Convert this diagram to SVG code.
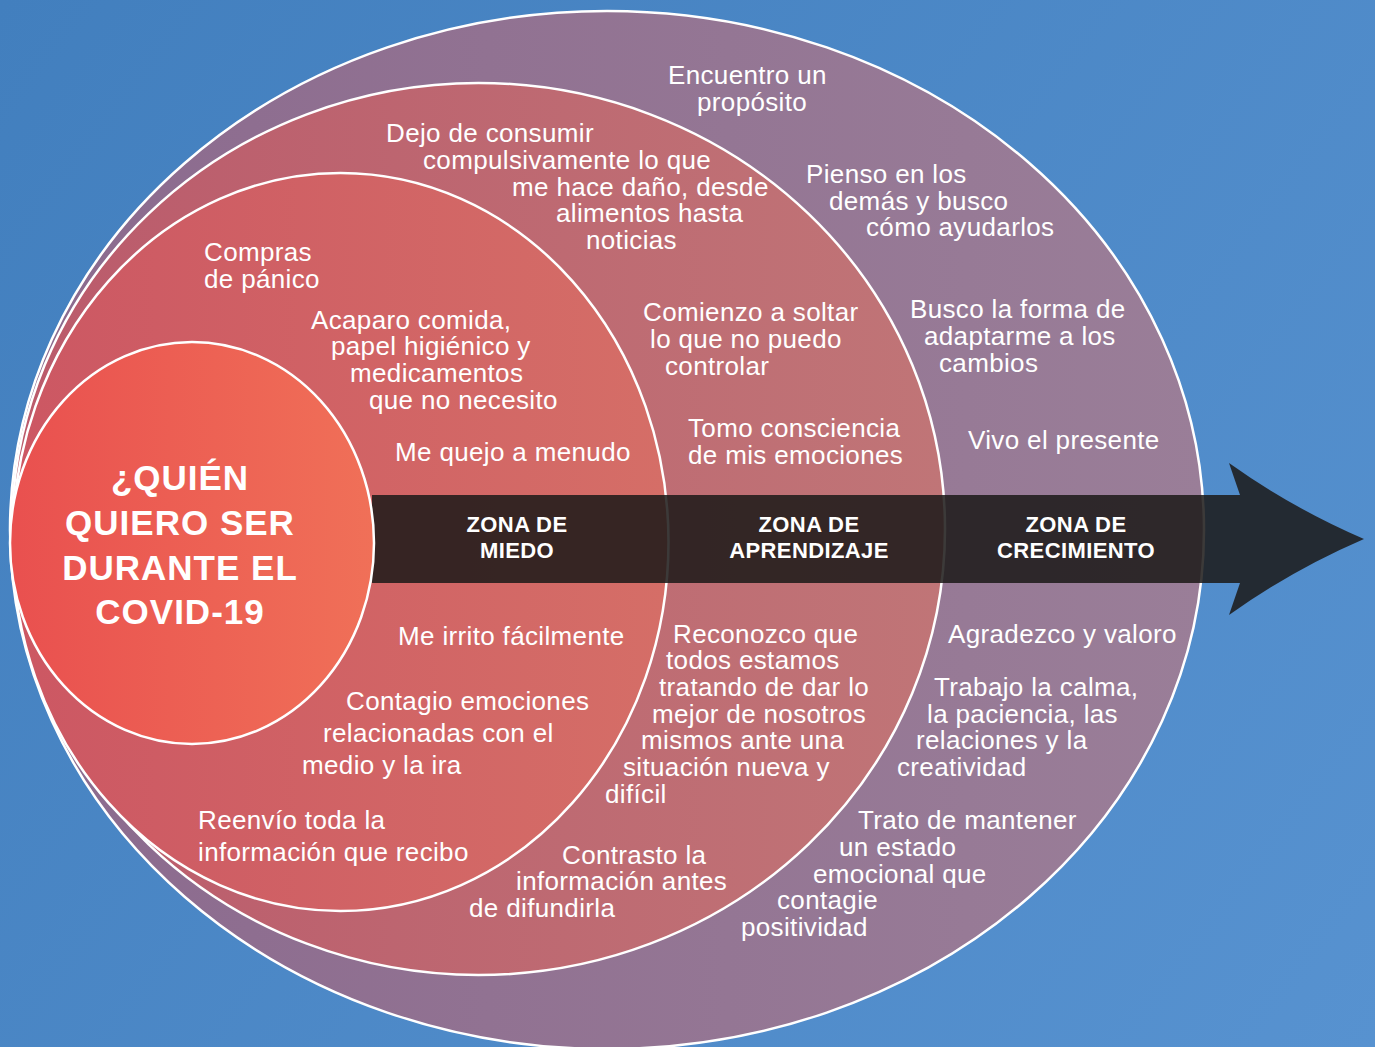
<svg xmlns="http://www.w3.org/2000/svg" width="1375" height="1047" viewBox="0 0 1375 1047">
  <defs>
    <linearGradient id="bg" x1="0" y1="0" x2="1375" y2="1047" gradientUnits="userSpaceOnUse">
      <stop offset="0" stop-color="#427fbe"/>
      <stop offset="1" stop-color="#5792d0"/>
    </linearGradient>
    <linearGradient id="gOuter" x1="10" y1="0" x2="1205" y2="0" gradientUnits="userSpaceOnUse">
      <stop offset="0" stop-color="#8b6a8e"/>
      <stop offset="1" stop-color="#9a7e98"/>
    </linearGradient>
    <linearGradient id="gMid" x1="12" y1="0" x2="945" y2="0" gradientUnits="userSpaceOnUse">
      <stop offset="0" stop-color="#bb5a6b"/>
      <stop offset="1" stop-color="#c07577"/>
    </linearGradient>
    <linearGradient id="gInner" x1="13" y1="0" x2="668" y2="0" gradientUnits="userSpaceOnUse">
      <stop offset="0" stop-color="#cc5763"/>
      <stop offset="1" stop-color="#d56e67"/>
    </linearGradient>
    <linearGradient id="gCore" x1="10" y1="0" x2="374" y2="0" gradientUnits="userSpaceOnUse">
      <stop offset="0" stop-color="#e9504f"/>
      <stop offset="1" stop-color="#f07058"/>
    </linearGradient>
  </defs>
  <style>
    .ring { stroke: #ffffff; stroke-width: 2.5; }
    .t { font-family: "Liberation Sans", Arial, sans-serif; font-size: 26px; fill: #ffffff; letter-spacing: 0.35px; }
    .zone { font-family: "Liberation Sans", Arial, sans-serif; font-size: 22px; font-weight: bold; fill: #ffffff; text-anchor: middle; letter-spacing: 0.4px; }
    .title { font-family: "Liberation Sans", Arial, sans-serif; font-size: 35px; font-weight: bold; fill: #ffffff; text-anchor: middle; letter-spacing: 1px; }
  </style>

  <rect x="0" y="0" width="1375" height="1047" fill="url(#bg)"/>

  <!-- nested zones -->
  <g id="zona-crecimiento">
    <ellipse class="ring" cx="607" cy="530" rx="597" ry="519" fill="url(#gOuter)"/>
  </g>
  <g id="zona-aprendizaje">
    <ellipse class="ring" cx="478.5" cy="529" rx="466.5" ry="446" fill="url(#gMid)"/>
  </g>
  <g id="zona-miedo">
    <ellipse class="ring" cx="340.5" cy="542" rx="328" ry="369" fill="url(#gInner)"/>
  </g>

  <!-- arrow running through the zones -->
  <g id="connectors">
    <path d="M372,495 H1240 L1229,463 Q1292,508 1364,539 Q1292,570 1229,615 L1240,583 H372 Z" fill="#1c1a19" fill-opacity="0.86"/>
  </g>

  <g id="centro">
    <ellipse class="ring" cx="192" cy="543" rx="182" ry="201" fill="url(#gCore)"/>
    <text class="title" x="180" y="490">¿QUIÉN</text>
    <text class="title" x="180" y="535">QUIERO SER</text>
    <text class="title" x="180" y="580">DURANTE EL</text>
    <text class="title" x="180" y="624">COVID-19</text>
  </g>

  <g id="etiquetas-zona">
    <text class="zone" x="517" y="532">ZONA DE</text>
    <text class="zone" x="517" y="558">MIEDO</text>
    <text class="zone" x="809" y="532">ZONA DE</text>
    <text class="zone" x="809" y="558">APRENDIZAJE</text>
    <text class="zone" x="1076" y="532">ZONA DE</text>
    <text class="zone" x="1076" y="558">CRECIMIENTO</text>
  </g>

  <!-- fear zone statements -->
  <g id="miedo-textos">
    <text class="t" x="204" y="261">Compras</text>
    <text class="t" x="204" y="288">de pánico</text>
    <text class="t" x="311" y="329">Acaparo comida,</text>
    <text class="t" x="331" y="355">papel higiénico y</text>
    <text class="t" x="350" y="382">medicamentos</text>
    <text class="t" x="369" y="409">que no necesito</text>
    <text class="t" x="395" y="461">Me quejo a menudo</text>
    <text class="t" x="398" y="645">Me irrito fácilmente</text>
    <text class="t" x="346" y="710">Contagio emociones</text>
    <text class="t" x="323" y="742">relacionadas con el</text>
    <text class="t" x="302" y="774">medio y la ira</text>
    <text class="t" x="198" y="829">Reenvío toda la</text>
    <text class="t" x="198" y="861">información que recibo</text>
  </g>

  <!-- learning zone statements -->
  <g id="aprendizaje-textos">
    <text class="t" x="386" y="142">Dejo de consumir</text>
    <text class="t" x="423" y="169">compulsivamente lo que</text>
    <text class="t" x="512" y="196">me hace daño, desde</text>
    <text class="t" x="556" y="222">alimentos hasta</text>
    <text class="t" x="586" y="249">noticias</text>
    <text class="t" x="643" y="321">Comienzo a soltar</text>
    <text class="t" x="650" y="348">lo que no puedo</text>
    <text class="t" x="665" y="375">controlar</text>
    <text class="t" x="688" y="437">Tomo consciencia</text>
    <text class="t" x="688" y="464">de mis emociones</text>
    <text class="t" x="673" y="643">Reconozco que</text>
    <text class="t" x="666" y="669">todos estamos</text>
    <text class="t" x="659" y="696">tratando de dar lo</text>
    <text class="t" x="652" y="723">mejor de nosotros</text>
    <text class="t" x="641" y="749">mismos ante una</text>
    <text class="t" x="623" y="776">situación nueva y</text>
    <text class="t" x="605" y="803">difícil</text>
    <text class="t" x="562" y="864">Contrasto la</text>
    <text class="t" x="516" y="890">información antes</text>
    <text class="t" x="469" y="917">de difundirla</text>
  </g>

  <!-- growth zone statements -->
  <g id="crecimiento-textos">
    <text class="t" x="668" y="84">Encuentro un</text>
    <text class="t" x="697" y="111">propósito</text>
    <text class="t" x="806" y="183">Pienso en los</text>
    <text class="t" x="829" y="210">demás y busco</text>
    <text class="t" x="866" y="236">cómo ayudarlos</text>
    <text class="t" x="910" y="318">Busco la forma de</text>
    <text class="t" x="924" y="345">adaptarme a los</text>
    <text class="t" x="939" y="372">cambios</text>
    <text class="t" x="968" y="449">Vivo el presente</text>
    <text class="t" x="948" y="643">Agradezco y valoro</text>
    <text class="t" x="934" y="696">Trabajo la calma,</text>
    <text class="t" x="927" y="723">la paciencia, las</text>
    <text class="t" x="916" y="749">relaciones y la</text>
    <text class="t" x="897" y="776">creatividad</text>
    <text class="t" x="858" y="829">Trato de mantener</text>
    <text class="t" x="839" y="856">un estado</text>
    <text class="t" x="813" y="883">emocional que</text>
    <text class="t" x="777" y="909">contagie</text>
    <text class="t" x="741" y="936">positividad</text>
  </g>
</svg>
